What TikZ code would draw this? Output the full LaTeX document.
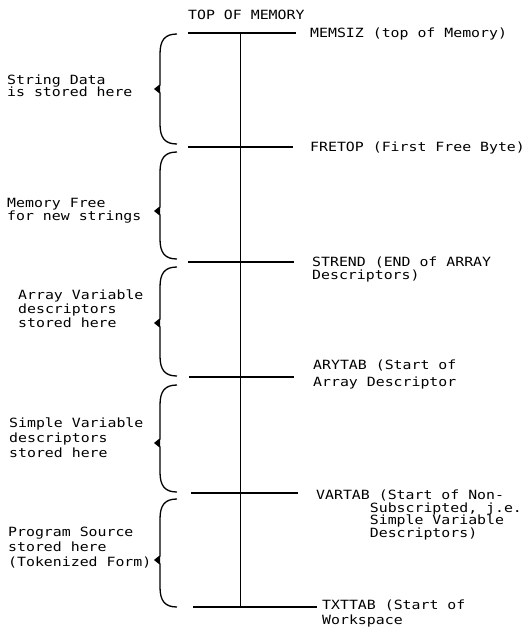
\documentclass[tikz,border=0pt]{standalone}
\usepackage{fontspec}
\newfontfamily\memfont[FakeStretch=1.17]{DejaVu Sans Mono}
\usetikzlibrary{positioning}

% curly brace from y=#1 down to y=#3, point at y=#2
\newcommand{\membrace}[3]{%
  \draw[brace line] (177,#1) .. controls (165,#1) and (160,#1+6) .. (160,#1+20)
    -- (160,#2-4) -- (155,#2) -- (160,#2+4) -- (160,#3-20)
    .. controls (160,#3-6) and (165,#3) .. (177,#3);
  \fill (160,#2-4) -- (155,#2) -- (160,#2+4) -- cycle;
}

\begin{document}
\begin{tikzpicture}[x=1pt, y=-1pt,
    lbl/.style={font=\memfont\fontsize{12.7}{15}\selectfont, inner sep=0pt, align=left, anchor=base west},
    mark line/.style={line width=1.5pt},
    brace line/.style={line width=1.3pt}]
  \useasboundingbox (0,0) rectangle (532,627);

  % memory column
  \draw[line width=0.9pt] (240,33) -- (240,607);
  \node[lbl] (topmem) at (188,19.6) {TOP OF MEMORY};

  % pointers
  \coordinate (memsiz-l) at (188,33);  \coordinate (memsiz-r) at (296,33);
  \coordinate (fretop-l) at (188,147); \coordinate (fretop-r) at (293,147);
  \coordinate (strend-l) at (188,262); \coordinate (strend-r) at (294,262);
  \coordinate (arytab-l) at (189,377); \coordinate (arytab-r) at (294,377);
  \coordinate (vartab-l) at (191,493); \coordinate (vartab-r) at (298,493);
  \coordinate (txttab-l) at (193,607); \coordinate (txttab-r) at (317,607);
  \draw[mark line] (memsiz-l) -- (memsiz-r);
  \draw[mark line] (fretop-l) -- (fretop-r);
  \draw[mark line] (strend-l) -- (strend-r);
  \draw[mark line] (arytab-l) -- (arytab-r);
  \draw[mark line] (vartab-l) -- (vartab-r);
  \draw[mark line] (txttab-l) -- (txttab-r);

  % labels sit on the baseline of their last line
  \node[lbl] (memsiz) at (310,37.6) {MEMSIZ (top of Memory)};
  \node[lbl] (fretop) at (310,151.6) {FRETOP (First Free Byte)};
  \node[lbl] (strend) at (312,279.6) {STREND (END of ARRAY\\[-2pt]Descriptors)};
  \node[lbl] (arytab) at (313,386.6) {ARYTAB (Start of\\[2pt]Array Descriptor};
  \node[lbl] (vartab) at (316,537) {VARTAB (Start of Non-\\[-2.5pt]%
    \phantom{VARTAB}Subscripted, j.e.\\[-2.5pt]%
    \phantom{VARTAB}Simple Variable\\[-2.5pt]%
    \phantom{VARTAB}Descriptors)};
  \node[lbl] (txttab) at (322,624.6) {TXTTAB (Start of\\Workspace};

  % regions
  \membrace{34}{89}{144}
  \membrace{152}{211}{259}
  \membrace{267}{323}{376}
  \membrace{385}{443}{492}
  \membrace{499}{560}{607}

  \node[lbl] (strdata) at (7,96.6) {String Data\\[-2.5pt]is stored here};
  \node[lbl] (freemem) at (7,220.6) {Memory Free\\[-2pt]for new strings};
  \node[lbl] (arrvars) at (18,327.6) {Array Variable\\[-1pt]descriptors\\[-1pt]stored here};
  \node[lbl] (simvars) at (9,457.6) {Simple Variable\\descriptors\\stored here};
  \node[lbl] (progsrc) at (8,566.6) {Program Source\\stored here\\(Tokenized Form)};
\end{tikzpicture}
\end{document}
